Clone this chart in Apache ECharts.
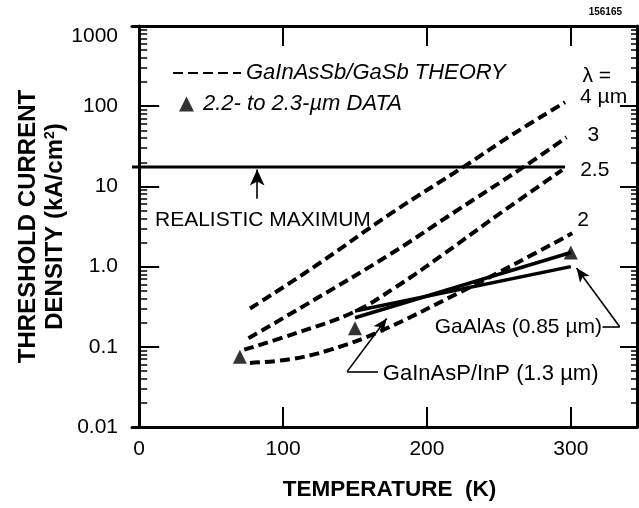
<!DOCTYPE html>
<html>
<head>
<meta charset="utf-8">
<script src="https://cdn.jsdelivr.net/npm/echarts@6/dist/echarts.min.js"></script>
<style>
  html, body { margin: 0; padding: 0; background: #fff; }
  #chart { width: 639px; height: 508px; }
</style>
</head>
<body>
<div id="chart"></div>
<script>
const FONT = '"Liberation Sans", Arial, Helvetica, sans-serif';

// Temperature axis (K)
const xMin = -5, xMax = 346;
const xLabelValues = [0, 100, 200, 300];
const xTickValues = [100, 200, 300];

// Threshold current density axis (kA/cm2), logarithmic
const yMin = 0.01, yMax = 1000;
const yDecades = [0.01, 0.1, 1, 10, 100, 1000];
const yDecadeLabels = ['0.01', '0.1', '1.0', '10', '100', '1000'];

// GaInAsSb/GaSb theory, one curve per wavelength
const temp4um = [77, 120, 175, 226, 260, 296];
const jth4um = [0.30, 0.95, 4.6, 17.8, 45, 112];
const temp3um = [76, 120, 174, 220, 267, 297];
const jth3um = [0.128, 0.37, 1.41, 4.9, 17.4, 41];
const temp25um = [73, 110, 149, 178, 212, 250, 294];
const jth25um = [0.092, 0.15, 0.27, 0.55, 1.45, 4.5, 16];
const temp2um = [77, 105, 133, 167, 223, 262, 301];
const jth2um = [0.063, 0.07, 0.092, 0.155, 0.48, 1.1, 2.6];
const curveLabels = ['4 \u00b5m', '3', '2.5', '2'];

// 2.2- to 2.3-um measurements
const dataTemp = [70, 150, 300];
const dataJth = [0.075, 0.17, 1.5];

// Reference lasers
const gaalasTemp = [150, 300];
const gaalasJth = [0.28, 1.0];
const gainaspTemp = [150, 300];
const gainaspJth = [0.23, 1.5];

// Realistic maximum current density
const realisticMax = 17.5;
const realisticMaxTemp = [-5, 296];

const THEORY = 'GaInAsSb/GaSb THEORY';
const DATA = '2.2- to 2.3-\u00b5m DATA';

// minor ticks at 2..9 of every decade
const yMinor = [];
yDecades.slice(0, -1).forEach(d => {
  for (let k = 2; k <= 9; k++) yMinor.push(+(d * k).toPrecision(3));
});

const pairs = (xs, ys) => xs.map((x, i) => [x, ys[i]]);
const black = '#000';
const TXT = 21;

function theoryCurve(T, J, label, offset) {
  return {
    type: 'line', name: THEORY, xAxisIndex: 0, yAxisIndex: 0,
    data: pairs(T, J), smooth: 0.4, symbol: 'none', showSymbol: false,
    lineStyle: { color: black, width: 4, type: [10, 5] },
    itemStyle: { color: black },
    endLabel: { show: true, formatter: label, offset: offset, color: black,
      fontSize: TXT, fontFamily: FONT },
    silent: true, z: 3
  };
}

function textMark(coord, text, position, size) {
  return {
    coord: coord, symbol: 'circle', symbolSize: 1,
    itemStyle: { color: 'rgba(0,0,0,0)' },
    label: { show: true, formatter: text, position: position, distance: 0,
      color: black, fontSize: size || TXT, fontFamily: FONT }
  };
}

const leader = { symbol: ['none', 'arrow'], symbolSize: [9, 14], silent: true,
  label: { show: false }, lineStyle: { color: black, width: 1.6, type: 'solid' } };

const tickText = { color: black, fontSize: 21, fontFamily: FONT };

const option = {
  animation: false,
  backgroundColor: '#fff',
  textStyle: { fontFamily: FONT },
  grid: { left: 132, right: 2, top: 26, bottom: 81, outerBoundsMode: 'none' },
  legend: [
    { data: [THEORY], left: 172, top: 62, padding: 0, itemWidth: 68, itemHeight: 20,
      selectedMode: false, itemStyle: { opacity: 0 },
      textStyle: { fontSize: 22, fontStyle: 'italic', color: black, fontFamily: FONT } },
    { data: [DATA], left: 179, top: 93, padding: 0, itemWidth: 15, itemHeight: 15,
      selectedMode: false,
      textStyle: { fontSize: 22, fontStyle: 'italic', color: black, fontFamily: FONT, padding: [0, 0, 0, 4] } }
  ],
  graphic: [
    { type: 'text', right: 17, top: 7,
      style: { text: '156165', fontSize: 10, fontWeight: 'bold', fill: black, fontFamily: FONT } }
  ],
  xAxis: [
    { type: 'value', position: 'bottom', min: xMin, max: xMax,
      name: 'TEMPERATURE  (K)', nameLocation: 'middle', nameGap: 51,
      nameTextStyle: { fontSize: 22.5, fontWeight: 'bold', color: black, fontFamily: FONT, padding: [0, 0, 0, 10] },
      axisLine: { lineStyle: { color: black, width: 3 } },
      axisTick: { inside: true, length: 20, customValues: xTickValues, lineStyle: { color: black, width: 2 } },
      axisLabel: { customValues: xLabelValues, margin: 12, ...tickText },
      splitLine: { show: false } },
    { type: 'value', position: 'top', min: xMin, max: xMax,
      axisLine: { lineStyle: { color: black, width: 3 } },
      axisTick: { inside: true, length: 20, customValues: xTickValues, lineStyle: { color: black, width: 2 } },
      axisLabel: { show: false }, splitLine: { show: false } }
  ],
  yAxis: [
    { type: 'log', logBase: 10, min: yMin, max: yMax, position: 'left',
      name: 'THRESHOLD CURRENT\nDENSITY (kA/cm{sup|2})', nameLocation: 'middle', nameGap: 63, nameRotate: 90,
      nameMoveOverlap: false,
      nameTextStyle: { fontSize: 24, fontWeight: 'bold', color: black, fontFamily: FONT, lineHeight: 27,
        rich: { sup: { fontSize: 14, fontWeight: 'bold', fontFamily: FONT, color: black, padding: [0, 0, 10, 0], lineHeight: 27 } } },
      axisLine: { lineStyle: { color: black, width: 3 } },
      axisTick: { inside: true, length: 20, customValues: yDecades, lineStyle: { color: black, width: 2 } },
      axisLabel: { customValues: yDecades, margin: 14, verticalAlignMaxLabel: 'top',
        formatter: v => yDecadeLabels[yDecades.findIndex(d => Math.abs(d - v) / d < 1e-6)], ...tickText },
      splitLine: { show: false } },
    { type: 'log', logBase: 10, min: yMin, max: yMax, position: 'left',
      axisLine: { show: false },
      axisTick: { inside: true, length: 8, customValues: yMinor, lineStyle: { color: black, width: 1.5 } },
      axisLabel: { show: false }, splitLine: { show: false } },
    { type: 'log', logBase: 10, min: yMin, max: yMax, position: 'right',
      axisLine: { lineStyle: { color: black, width: 3 } },
      axisTick: { inside: true, length: 17, customValues: yDecades, lineStyle: { color: black, width: 2 } },
      axisLabel: { show: false }, splitLine: { show: false } },
    { type: 'log', logBase: 10, min: yMin, max: yMax, position: 'right',
      axisLine: { show: false },
      axisTick: { inside: true, length: 6, customValues: yMinor, lineStyle: { color: black, width: 1.5 } },
      axisLabel: { show: false }, splitLine: { show: false } }
  ],
  series: [
    theoryCurve(temp4um, jth4um, curveLabels[0], [7, -5]),
    theoryCurve(temp3um, jth3um, curveLabels[1], [13, -2]),
    theoryCurve(temp25um, jth25um, curveLabels[2], [10, 0]),
    theoryCurve(temp2um, jth2um, curveLabels[3], [-3, -13]),
    {
      type: 'line', name: 'Realistic maximum', xAxisIndex: 0, yAxisIndex: 0,
      data: realisticMaxTemp.map(t => [t, realisticMax]),
      symbol: 'none', lineStyle: { color: black, width: 3 }, silent: true, z: 2,
      markLine: Object.assign({}, leader, {
        symbolSize: [11, 16],
        data: [[{ coord: [82, 7.0] }, { coord: [82, 16.3] }]]
      }),
      markPoint: { silent: true, data: [
        textMark([86, 3.8], 'REALISTIC MAXIMUM', 'inside'),
        textMark([318, 240], '\u03bb =', 'inside')] }
    },
    {
      type: 'line', name: 'GaAlAs (0.85 \u00b5m)', xAxisIndex: 0, yAxisIndex: 0,
      data: pairs(gaalasTemp, gaalasJth), symbol: 'none',
      lineStyle: { color: black, width: 3.5 }, silent: true, z: 4,
      markLine: Object.assign({}, leader, {
        data: [
          [{ coord: [322, 0.178], symbol: 'none' }, { coord: [334, 0.178], symbol: 'none' }],
          [{ coord: [334, 0.178], symbol: 'none' }, { coord: [304, 0.96], symbol: 'arrow' }]
        ]
      }),
      markPoint: { silent: true, data: [textMark([322, 0.176], 'GaAlAs (0.85 \u00b5m)', 'left')] }
    },
    {
      type: 'line', name: 'GaInAsP/InP (1.3 \u00b5m)', xAxisIndex: 0, yAxisIndex: 0,
      data: pairs(gainaspTemp, gainaspJth), symbol: 'none',
      lineStyle: { color: black, width: 3.5 }, silent: true, z: 4,
      markLine: Object.assign({}, leader, {
        data: [
          [{ coord: [166, 0.049], symbol: 'none' }, { coord: [144.5, 0.049], symbol: 'none' }],
          [{ coord: [144.5, 0.049], symbol: 'none' }, { coord: [172, 0.225], symbol: 'arrow' }]
        ]
      }),
      markPoint: { silent: true, data: [textMark([169, 0.046], 'GaInAsP/InP (1.3 \u00b5m)', 'right', 22)] }
    },
    {
      type: 'scatter', name: DATA, xAxisIndex: 0, yAxisIndex: 0,
      data: pairs(dataTemp, dataJth), symbol: 'triangle', symbolSize: 14,
      itemStyle: { color: black }, silent: true, z: 5
    }
  ]
};

const chart = echarts.init(document.getElementById('chart'), null, { renderer: 'canvas' });
chart.setOption(option);
</script>
</body>
</html>
